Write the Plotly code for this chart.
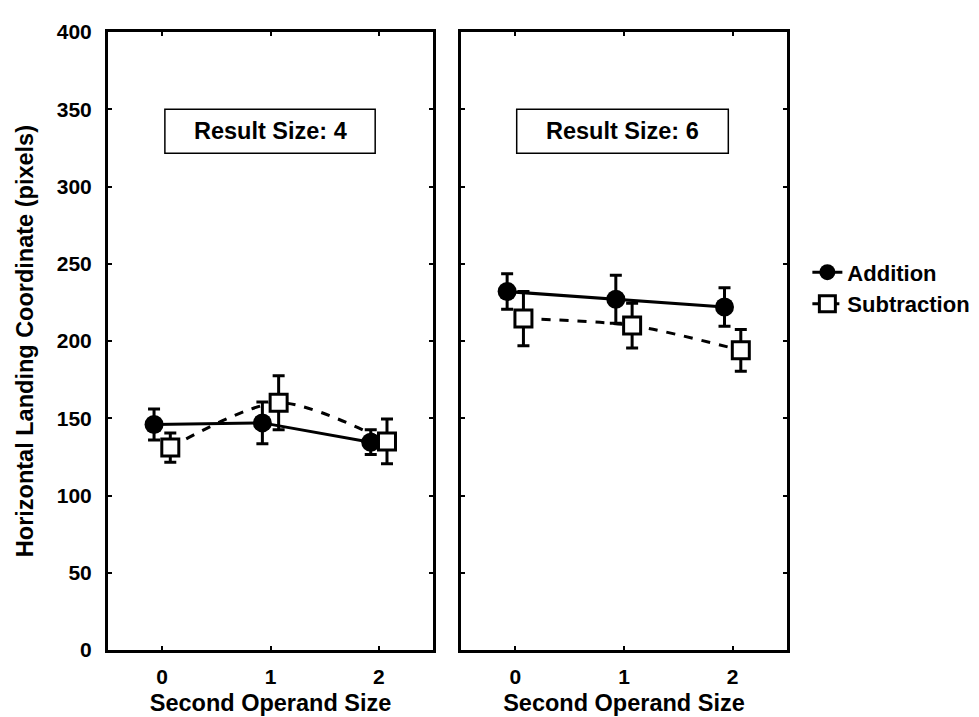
import plotly.graph_objects as go

x_levels = [0, 1, 2]
offset = 0.075

# Result Size 4
add4 = [146, 147, 134.5]
add4_err = [10, 13.5, 8]
sub4 = [131, 160, 135]
sub4_err = [9.5, 17.5, 14.5]

# Result Size 6
add6 = [232, 227, 222]
add6_err = [11.5, 15.5, 12.5]
sub6 = [214.5, 210, 194]
sub6_err = [17.5, 14.5, 13.5]

panel_titles = ["Result Size: 4", "Result Size: 6"]
y_ticks = [0, 50, 100, 150, 200, 250, 300, 350, 400]
y_title = "Horizontal Landing Coordinate (pixels)"
x_title = "Second Operand Size"

FONT = "Liberation Sans, Arial, sans-serif"
TICK = dict(family=FONT, size=21, color="black", weight="bold")
TITLE = dict(family=FONT, size=23.5, color="black", weight="bold")

fig = go.Figure()

def add_series(xa, ya, y_add, e_add, y_sub, e_sub, show):
    fig.add_trace(go.Scatter(
        x=[v - offset for v in x_levels], y=y_add,
        mode="lines+markers", name="Addition", showlegend=show,
        line=dict(color="black", width=3),
        marker=dict(symbol="circle", size=19, color="black"),
        error_y=dict(type="data", array=e_add, visible=True, color="black", thickness=3, width=6),
        xaxis=xa, yaxis=ya))
    fig.add_trace(go.Scatter(
        x=[v + offset for v in x_levels], y=y_sub,
        mode="lines+markers", name="Subtraction", showlegend=show,
        line=dict(color="black", width=3, dash="dash", shape="spline", smoothing=0.8),
        marker=dict(symbol="square", size=17, color="white", line=dict(color="black", width=3)),
        error_y=dict(type="data", array=e_sub, visible=True, color="black", thickness=3, width=6),
        xaxis=xa, yaxis=ya))

add_series("x", "y", add4, add4_err, sub4, sub4_err, True)
add_series("x2", "y2", add6, add6_err, sub6, sub6_err, False)

xaxis_common = dict(
    range=[-0.5, 2.5], tickvals=x_levels, ticks="inside", ticklen=4, tickwidth=2,
    tickcolor="black", showline=True, linecolor="black", linewidth=3, mirror="ticks",
    showgrid=False, zeroline=False, tickfont=TICK, ticklabelstandoff=6,
    title=dict(text=x_title, font=TITLE, standoff=8),
)
yaxis_common = dict(
    range=[0, 400], tickvals=y_ticks, ticks="inside", ticklen=4, tickwidth=2,
    tickcolor="black", showline=True, linecolor="black", linewidth=3, mirror="ticks",
    showgrid=False, zeroline=False, tickfont=TICK,
)

fig.update_layout(
    width=979, height=717,
    paper_bgcolor="white", plot_bgcolor="white",
    margin=dict(l=100, r=198, t=23, b=72),
    xaxis=dict(domain=[0, 0.4787], **xaxis_common),
    xaxis2=dict(domain=[0.5198, 1], anchor="y2", **xaxis_common),
    yaxis=dict(anchor="x", ticklabelstandoff=9, **yaxis_common),
    yaxis2=dict(anchor="x2", showticklabels=False, **yaxis_common),
    legend=dict(x=1.03, y=0.645, xanchor="left", yanchor="top",
                font=dict(family=FONT, size=22, color="black", weight="bold"),
                bgcolor="rgba(0,0,0,0)", tracegroupgap=0, itemwidth=30),
    showlegend=True,
)

fig.add_annotation(xref="paper", yref="paper", x=-0.122, y=0.5, text=y_title,
                   textangle=-90, showarrow=False, xanchor="center", yanchor="middle",
                   font=TITLE)

box_x = [(0.175, 0.822), (0.171, 0.82)]
for i, (title, (x0, x1)) in enumerate(zip(panel_titles, box_x)):
    xr = "x domain" if i == 0 else "x2 domain"
    yr = "y domain" if i == 0 else "y2 domain"
    fig.add_shape(type="rect", xref=xr, yref=yr, x0=x0, x1=x1, y0=0.804, y1=0.875,
                  line=dict(color="black", width=1.5), fillcolor="white")
    fig.add_annotation(xref=xr, yref=yr, x=(x0 + x1) / 2, y=0.8395, text=title,
                       showarrow=False, xanchor="center", yanchor="middle",
                       font=TITLE)

fig.write_html("out.html")
